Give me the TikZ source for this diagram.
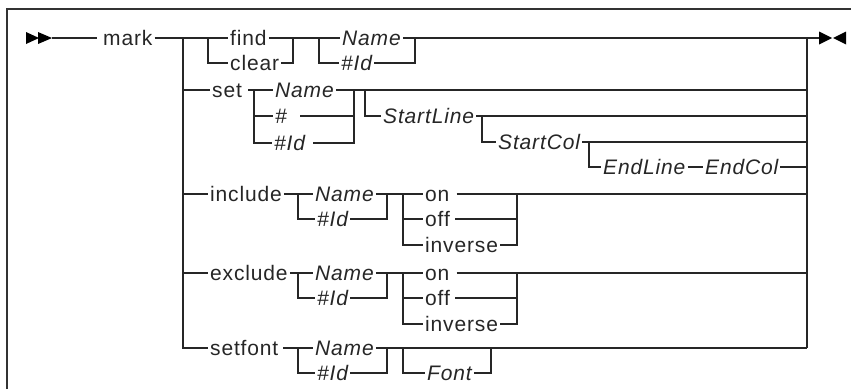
\documentclass[tikz,border=0pt]{standalone}
\usepackage{fontspec}
\setmainfont{Liberation Sans}[LetterSpace=4]
\begin{document}
\begin{tikzpicture}[x=1pt,y=-1pt,
  ln/.style={line width=1.1pt, draw=black!85},
  frame/.style={line width=2pt, draw=black!80},
  lbl/.style={inner xsep=2pt, inner ysep=0pt, text height=15pt, text depth=0pt,
              anchor=west, text=black!85},
  kw/.style={lbl, font=\fontsize{21}{25}\selectfont},
  var/.style={lbl, font=\fontsize{21}{25}\selectfont\itshape},
  tip/.style={fill=black}]
\useasboundingbox (0,0) rectangle (851,389);
\draw[frame] (7,389) -- (7,9) -- (851,9);

% ---- start and end marks
\coordinate (a0) at (52,38);
\coordinate (e0) at (819,38);
\fill[tip] (26,32) -- (39,38) -- (26,44) -- cycle;
\fill[tip] (38,32) -- (a0) -- (38,44) -- cycle;
\fill[tip] (e0) ++(0,-6.5) -- (832,38) -- (819,44.5) -- cycle;
\fill[tip] (846,31.5) -- (833,38) -- (846,44.5) -- cycle;

% ---- keywords and variables
\node[kw]  (mark)  at (101,38) {mark};
\node[kw]  (find)  at (228,38) {find};
\node[kw]  (clear) at (228,63) {clear};
\node[var] (nm1)   at (340,38) {Name};
\node[var] (id1)   at (339,63) {\#Id};

\node[kw]  (set)   at (210,90)  {set\kern4pt};
\node[var] (nm2)   at (273,90)  {Name};
\node[var] (hs)    at (273,116) {\#\kern11pt};
\node[var] (id2)   at (272,143) {\#Id\kern6pt};
\node[var] (sl)    at (381,116) {StartLine};
\node[var] (sc)    at (496,142) {StartCol};
\node[var] (el)    at (601,167) {EndLine};
\node[var] (ec)    at (703,167) {EndCol};

\node[kw]  (sf)    at (208,348) {setfont\kern3pt};
\node[var] (sf-n)  at (313,348) {Name};
\node[var] (sf-i)  at (315,373) {\#Id};
\node[var] (font)  at (425,373) {Font};

% ---- branch and join points
\coordinate (m0)  at (183,38);
\coordinate (f0)  at (208,38);
\coordinate (f1)  at (293,38);
\coordinate (f1b) at (293,63);
\coordinate (g0)  at (319,38);
\coordinate (g1)  at (415,38);
\coordinate (g1b) at (415,63);
\coordinate (r0)  at (807,38);
\coordinate (r1)  at (807,348);

\coordinate (s0)  at (183,90);
\coordinate (s1)  at (254,90);
\coordinate (s2)  at (354,90);
\coordinate (s3)  at (365,90);
\coordinate (s4)  at (354,116);
\coordinate (rs)  at (807,90);
\coordinate (t0)  at (482,116);
\coordinate (t1)  at (807,116);
\coordinate (u0)  at (589,142);
\coordinate (u1)  at (807,142);
\coordinate (v1)  at (807,167);

\coordinate (sf-a) at (298,348);
\coordinate (sf-b) at (387,348);
\coordinate (sf-c) at (403,348);
\coordinate (sf-d) at (491,348);

% ---- main line: mark, find/clear, Name/#Id
\draw[ln] (a0) -- ([xshift=-4pt]mark.west);
\draw[ln] (mark) -- (f0) -- (find);
\draw[ln] (f0) |- (clear);
\draw[ln] (find) -| (f1b) -- (clear);
\draw[ln] (f1) -- (g0) -- (nm1);
\draw[ln] (g0) |- (id1);
\draw[ln] (nm1) -| (g1b) -- (id1);
\draw[ln] (g1) -- (r0) -- (e0);
\draw[ln] (r0) -- (r1);
\draw[ln] (m0) |- (sf);

% ---- set
\draw[ln] (s0) -- (set);
\draw[ln] (set) -- (s1) -- (nm2);
\draw[ln] (s1) |- (hs);
\draw[ln] (s1) |- (id2);
\draw[ln] (nm2) -- (s2) -- (rs);
\draw[ln] (hs) -- (s4);
\draw[ln] (id2) -| (s2);
\draw[ln] (s3) |- (sl);
\draw[ln] (sl) -- (t0) -- (t1);
\draw[ln] (t0) |- (sc);
\draw[ln] (sc) -- (u0) -- (u1);
\draw[ln] (u0) |- (el);
\draw[ln] (el) -- (ec);
\draw[ln] (ec) -- (v1);

% ---- include / exclude
\foreach \k/\w/\r in {inc/include/194, exc/exclude/273} {
  \node[kw]  (\k)     at (208,\r)    {\w};
  \node[var] (\k-n)   at (313,\r)    {Name};
  \node[var] (\k-i)   at (315,\r+25) {\#Id};
  \node[kw]  (\k-on)  at (423,\r)    {on\kern5pt};
  \node[kw]  (\k-off) at (423,\r+25) {off\kern3pt};
  \node[kw]  (\k-inv) at (423,\r+51) {inverse};
  \coordinate (\k-0) at (183,\r);
  \coordinate (\k-a) at (298,\r);
  \coordinate (\k-b) at (387,\r);
  \coordinate (\k-c) at (403,\r);
  \coordinate (\k-d) at (517,\r);
  \coordinate (\k-e) at (517,\r+25);
  \coordinate (\k-r) at (807,\r);
  \draw[ln] (\k-0) -- (\k);
  \draw[ln] (\k) -- (\k-a) -- (\k-n);
  \draw[ln] (\k-a) |- (\k-i);
  \draw[ln] (\k-n) -- (\k-b) -- (\k-c) -- (\k-on);
  \draw[ln] (\k-i) -| (\k-b);
  \draw[ln] (\k-c) |- (\k-off);
  \draw[ln] (\k-c) |- (\k-inv);
  \draw[ln] (\k-on) -- (\k-d) -- (\k-r);
  \draw[ln] (\k-off) -- (\k-e);
  \draw[ln] (\k-inv) -| (\k-d);
}

% ---- setfont
\draw[ln] (sf) -- (sf-a) -- (sf-n);
\draw[ln] (sf-a) |- (sf-i);
\draw[ln] (sf-n) -- (sf-b) -- (r1);
\draw[ln] (sf-i) -| (sf-b);
\draw[ln] (sf-c) |- (font);
\draw[ln] (font) -| (sf-d);
\end{tikzpicture}
\end{document}
